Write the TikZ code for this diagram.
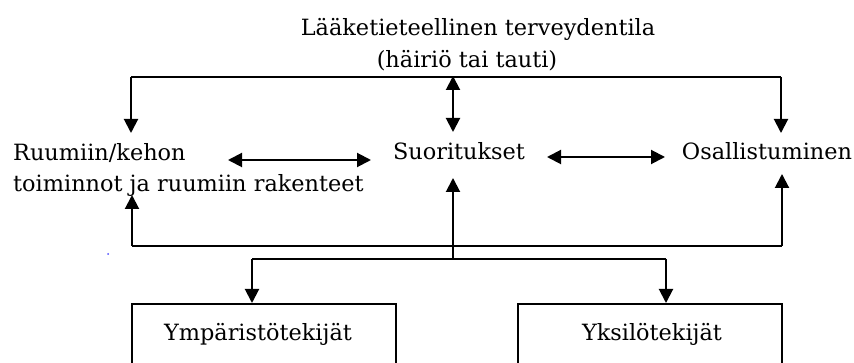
\documentclass[tikz,border=0pt]{standalone}
\usepackage{fontspec}
\setmainfont{DejaVu Serif}
\usetikzlibrary{arrows.meta}
\begin{document}
\begin{tikzpicture}[x=1pt,y=-1pt,
  lbl/.style={inner sep=0pt,anchor=base,font=\fontsize{22.4}{26}\selectfont},
  lblw/.style={lbl,anchor=base west},
  conn/.style={line width=2pt},
  arr/.style={conn,-{Triangle[width=14pt,length=14pt]}},
  darr/.style={conn,{Triangle[width=14pt,length=14pt]}-{Triangle[width=14pt,length=14pt]}},
  factorbox/.style={draw,line width=1.6pt,inner sep=0pt,anchor=north west}]
\useasboundingbox (0,0) rectangle (854,363);
\begin{scope}
\clip (0,0) rectangle (854,363);
% text
\node[lbl] (t1) at (478,36) {Lääketieteellinen terveydentila};
\node[lbl] (t2) at (467,68) {(häiriö tai tauti)};
\node[lblw] (rk1) at (13,161) {Ruumiin/kehon};
\node[lblw] (rk2) at (13,192) {toiminnot ja ruumiin rakenteet};
\node[lbl] (suor) at (459,160) {Suoritukset};
\node[lbl] (osal) at (767,160) {Osallistuminen};
% boxes
\node[factorbox,minimum width=264pt,minimum height=90pt] (envbox) at (131,303) {};
\node[factorbox,minimum width=264pt,minimum height=90pt] (indbox) at (517,303) {};
\node[lbl] (ymp) at (258,340) {Ympäristötekijät};
\node[lbl] (yks) at (652,340) {Yksilötekijät};
% coordinates
\coordinate (tl) at (131,77);
\coordinate (tc) at (453,77);
\coordinate (tr) at (781,77);
\coordinate (bl) at (132,246);
\coordinate (br) at (782,246);
\coordinate (lc) at (453,259);
\coordinate (ll) at (252,259);
\coordinate (lr) at (666,259);
\coordinate (rkdown) at (131,133);
\coordinate (osdown) at (781,133);
\coordinate (sutop) at (453,132);
\coordinate (suup) at (453,178);
\coordinate (rkup) at (132,195);
\coordinate (osup) at (782,174);
\coordinate (h1a) at (228,160);
\coordinate (h1b) at (371,160);
\coordinate (h2a) at (547,157);
\coordinate (h2b) at (665,157);
% top bracket
\draw[conn] (tl) -- (tr);
\draw[arr] (tl) -- (rkdown);
\draw[arr] (tr) -- (osdown);
\draw[darr] ([yshift=1pt]tc) -- (sutop);
% horizontal
\draw[darr] (h1a) -- (h1b);
\draw[darr] (h2a) -- (h2b);
% bottom bracket
\draw[conn] (bl) -- (br);
\draw[arr] (bl) -- (rkup);
\draw[arr] (br) -- (osup);
\draw[arr] (lc) -- (suup);
% lower split
\draw[conn] (ll) -- (lr);
\draw[arr] (ll) -- (ll |- envbox.north);
\draw[arr] (lr) -- (lr |- indbox.north);
% stray dot
\fill[blue!70!white] (108,254) circle (1pt);
\end{scope}
\end{tikzpicture}
\end{document}
